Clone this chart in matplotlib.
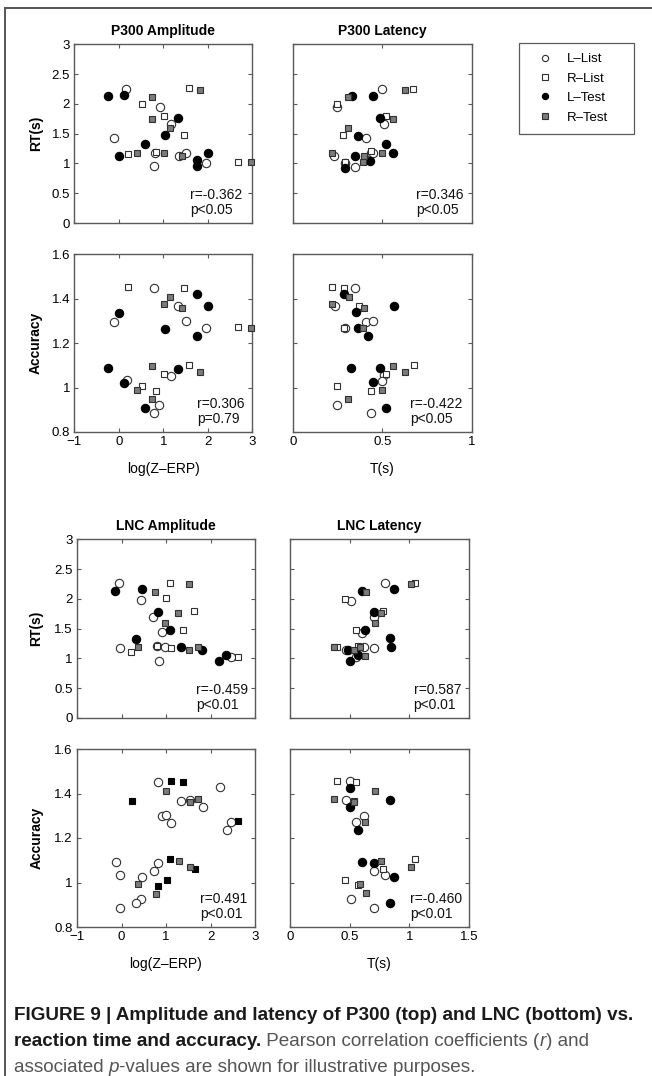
import numpy as np
import matplotlib
matplotlib.use('Agg')
import matplotlib.pyplot as plt
from matplotlib.lines import Line2D

plt.rcParams['font.family'] = ['Liberation Sans', 'DejaVu Sans']

# ---------------- data ----------------
# Panel A: P300 amplitude vs RT
A_LL_x = [0.16, 0.93, -0.11, 1.17, 0.81, 0.79, 1.35, 1.50, 1.97]
A_LL_y = [2.25, 1.95, 1.43, 1.67, 1.18, 0.96, 1.13, 1.17, 1.01]
A_RL_x = [0.53, 1.02, 1.58, 1.47, 0.21, 0.83, 2.67]
A_RL_y = [1.99, 1.79, 2.26, 1.47, 1.16, 1.20, 1.02]
A_LT_x = [-0.24, 0.12, 1.34, 1.04, 0.59, 0.01, 1.75, 1.75, 2.00]
A_LT_y = [2.13, 2.15, 1.77, 1.47, 1.33, 1.13, 1.06, 0.95, 1.18]
A_RT_x = [0.74, 1.82, 0.75, 1.15, 0.42, 1.01, 1.43, 2.98]
A_RT_y = [2.11, 2.23, 1.75, 1.60, 1.18, 1.18, 1.12, 1.03]

# Panel B: P300 latency vs RT
B_LL_x = [0.50, 0.25, 0.51, 0.41, 0.23, 0.44, 0.35, 0.29, 0.45]
B_LL_y = [2.25, 1.95, 1.67, 1.43, 1.12, 1.17, 0.94, 1.01, 1.18]
B_RL_x = [0.67, 0.25, 0.52, 0.28, 0.44, 0.29]
B_RL_y = [2.25, 1.99, 1.79, 1.47, 1.21, 1.02]
B_LT_x = [0.33, 0.45, 0.49, 0.365, 0.52, 0.56, 0.35, 0.43, 0.29]
B_LT_y = [2.13, 2.14, 1.76, 1.46, 1.33, 1.17, 1.12, 1.04, 0.93]
B_RT_x = [0.63, 0.31, 0.56, 0.31, 0.22, 0.50, 0.40, 0.395]
B_RT_y = [2.23, 2.11, 1.75, 1.60, 1.17, 1.17, 1.12, 1.02]

# Panel C: P300 amplitude vs accuracy
C_LL_x = [0.79, -0.11, 1.34, 1.50, 1.97, 0.18, 1.165, 0.91, 0.79]
C_LL_y = [1.45, 1.294, 1.368, 1.30, 1.27, 1.032, 1.05, 0.923, 0.885]
C_RL_x = [0.21, 1.47, 2.67, 1.58, 1.02, 0.53, 0.83]
C_RL_y = [1.452, 1.45, 1.272, 1.10, 1.059, 1.008, 0.983]
C_LT_x = [1.75, 2.00, 1.04, 1.75, 0.01, -0.24, 0.12, 1.34, 0.59]
C_LT_y = [1.42, 1.365, 1.265, 1.233, 1.337, 1.087, 1.022, 1.085, 0.907]
C_RT_x = [1.15, 1.01, 1.43, 2.98, 0.75, 1.82, 0.42, 0.74]
C_RT_y = [1.407, 1.375, 1.357, 1.267, 1.095, 1.07, 0.99, 0.95]

# Panel D: P300 latency vs accuracy
D_LL_x = [0.35, 0.237, 0.41, 0.446, 0.29, 0.51, 0.50, 0.25, 0.44]
D_LL_y = [1.45, 1.367, 1.293, 1.30, 1.27, 1.056, 1.03, 0.923, 0.886]
D_RL_x = [0.22, 0.287, 0.37, 0.287, 0.675, 0.52, 0.246, 0.44]
D_RL_y = [1.453, 1.45, 1.365, 1.27, 1.10, 1.059, 1.008, 0.985]
D_LT_x = [0.287, 0.565, 0.356, 0.364, 0.42, 0.325, 0.49, 0.446, 0.524]
D_LT_y = [1.423, 1.366, 1.338, 1.266, 1.233, 1.089, 1.086, 1.023, 0.908]
D_RT_x = [0.315, 0.22, 0.40, 0.395, 0.56, 0.63, 0.50, 0.31]
D_RT_y = [1.407, 1.375, 1.357, 1.267, 1.095, 1.07, 0.99, 0.95]

# Panel E: LNC amplitude vs RT
E_LL_x = [-0.05, 0.44, 0.71, 0.91, -0.035, 0.80, 0.975, 0.84, 2.45]
E_LL_y = [2.27, 1.98, 1.69, 1.44, 1.18, 1.21, 1.19, 0.96, 1.03]
E_RL_x = [1.09, 1.00, 1.64, 1.38, 0.22, 0.80, 1.12, 2.62]
E_RL_y = [2.26, 2.01, 1.80, 1.48, 1.115, 1.21, 1.17, 1.03]
E_LT_x = [-0.15, 0.47, 0.81, 1.10, 0.32, 1.33, 1.82, 2.19, 2.35]
E_LT_y = [2.14, 2.16, 1.78, 1.47, 1.33, 1.20, 1.14, 0.95, 1.065]
E_RT_x = [0.76, 1.52, 1.28, 0.98, 0.38, 1.52, 1.72]
E_RT_y = [2.12, 2.25, 1.76, 1.60, 1.19, 1.14, 1.19]

# Panel F: LNC latency vs RT
F_LL_x = [0.80, 0.515, 0.70, 0.605, 0.47, 0.62, 0.705, 0.555]
F_LL_y = [2.27, 1.97, 1.70, 1.43, 1.14, 1.19, 1.18, 1.03]
F_RL_x = [1.045, 0.465, 0.78, 0.55, 0.39, 0.57]
F_RL_y = [2.26, 2.00, 1.80, 1.48, 1.19, 1.21]
F_LT_x = [0.605, 0.87, 0.70, 0.63, 0.84, 0.845, 0.49, 0.57, 0.50]
F_LT_y = [2.14, 2.16, 1.78, 1.47, 1.34, 1.19, 1.14, 1.06, 0.95]
F_RT_x = [1.01, 0.64, 0.76, 0.71, 0.37, 0.54, 0.59, 0.63]
F_RT_y = [2.25, 2.12, 1.76, 1.60, 1.19, 1.14, 1.19, 1.04]

# Panel G: LNC amplitude vs accuracy (markers drawn differently in original)
G_LL_x = [-0.03, 0.44, 0.72, 0.92, -0.03, 0.825, 0.99, 0.83, 2.46]
G_LL_y = [1.032, 0.925, 1.053, 1.298, 0.887, 1.086, 1.304, 1.453, 1.272]
G_LT_x = [-0.13, 0.465, 1.12, 0.32, 1.33, 1.83, 2.21, 2.36, 1.53]
G_LT_y = [1.09, 1.026, 1.268, 0.908, 1.368, 1.34, 1.427, 1.234, 1.37]
G_RL_x = [0.23, 1.12, 1.39, 2.62, 1.09, 1.655, 1.02, 0.82]
G_RL_y = [1.367, 1.457, 1.453, 1.275, 1.104, 1.061, 1.011, 0.985]
G_RT_x = [0.99, 1.53, 1.73, 1.29, 1.53, 0.38, 0.765]
G_RT_y = [1.41, 1.36, 1.376, 1.096, 1.069, 0.993, 0.95]

# Panel H: LNC latency vs accuracy
H_LL_x = [0.50, 0.47, 0.616, 0.555, 0.70, 0.80, 0.515, 0.705]
H_LL_y = [1.454, 1.371, 1.30, 1.274, 1.053, 1.033, 0.926, 0.887]
H_RL_x = [0.39, 0.55, 0.54, 1.045, 0.78, 0.465, 0.566]
H_RL_y = [1.456, 1.453, 1.365, 1.104, 1.06, 1.009, 0.987]
H_LT_x = [0.50, 0.84, 0.50, 0.566, 0.60, 0.70, 0.87, 0.84]
H_LT_y = [1.426, 1.37, 1.341, 1.234, 1.09, 1.089, 1.024, 0.908]
H_RT_x = [0.71, 0.37, 0.54, 0.63, 0.76, 1.01, 0.59, 0.64]
H_RT_y = [1.41, 1.376, 1.36, 1.27, 1.096, 1.07, 0.993, 0.952]

r_texts = ["r=-0.362", "r=0.346", "r=0.306", "r=-0.422",
           "r=-0.459", "r=0.587", "r=0.491", "r=-0.460"]
p_texts = ["p<0.05", "p<0.05", "p=0.79", "p<0.05",
           "p<0.01", "p<0.01", "p<0.01", "p<0.01"]
titles = ["P300 Amplitude", "P300 Latency", "LNC Amplitude", "LNC Latency"]
legend_labels = ["L\u2013List", "R\u2013List", "L\u2013Test", "R\u2013Test"]

# ---------------- styles ----------------
EDGE = '#303030'
GRAYFILL = '#7b7b7b'
ST = {
    'LL': dict(marker='o', ms=6.0, mfc='white', mec=EDGE, mew=0.8, ls='none'),
    'RL': dict(marker='s', ms=4.9, mfc='white', mec=EDGE, mew=0.8, ls='none'),
    'LT': dict(marker='o', ms=6.0, mfc='black', mec='black', mew=0.8, ls='none'),
    'RT': dict(marker='s', ms=4.9, mfc=GRAYFILL, mec=EDGE, mew=0.8, ls='none'),
    'RLblk': dict(marker='s', ms=4.9, mfc='black', mec='black', mew=0.8, ls='none'),
}
SPINE = '#5a5a5a'

W, H = 652, 1076
fig = plt.figure(figsize=(W / 100, H / 100), dpi=100)


def add_ax(x0, x1, yt, yb):
    return fig.add_axes([x0 / W, 1 - yb / H, (x1 - x0) / W, (yb - yt) / H])


def style(ax, xlim, xticks, ylim, yticks, showx, showy):
    ax.set_xlim(*xlim)
    ax.set_ylim(*ylim)
    ax.set_xticks(xticks)
    ax.set_yticks(yticks)
    ax.set_xticklabels([f"{t:g}".replace('-', '\u2212') for t in xticks])
    ax.set_yticklabels([f"{t:g}" for t in yticks])
    ax.tick_params(direction='in', top=True, right=True, length=3, width=0.8,
                   color=SPINE, labelsize=9.5, pad=3,
                   labelbottom=showx, labelleft=showy)
    for s in ax.spines.values():
        s.set_color(SPINE)
        s.set_linewidth(1.0)


def stats(ax, fx, i):
    ax.text(fx, 0.155, r_texts[i], transform=ax.transAxes, fontsize=10,
            va='center', ha='left', color='#111111')
    ax.text(fx, 0.075, p_texts[i], transform=ax.transAxes, fontsize=10,
            va='center', ha='left', color='#111111')


rt_ticks = [0, 0.5, 1, 1.5, 2, 2.5, 3]
acc_ticks = [0.8, 1, 1.2, 1.4, 1.6]
amp_ticks = [-1, 0, 1, 2, 3]

# axes boxes (pixel)
axA = add_ax(74.3, 252.3, 44.3, 223.0)
axB = add_ax(292.7, 471.7, 44.3, 223.0)
axC = add_ax(74.3, 252.3, 254.3, 432.0)
axD = add_ax(292.7, 471.7, 254.3, 432.0)
axE = add_ax(77.0, 255.0, 539.3, 718.0)
axF = add_ax(290.0, 469.0, 539.3, 718.0)
axG = add_ax(77.0, 255.0, 749.0, 927.0)
axH = add_ax(290.0, 469.0, 749.0, 927.0)

panels = [
    (axA, [(A_LL_x, A_LL_y, 'LL'), (A_RL_x, A_RL_y, 'RL'), (A_LT_x, A_LT_y, 'LT'), (A_RT_x, A_RT_y, 'RT')]),
    (axB, [(B_LL_x, B_LL_y, 'LL'), (B_RL_x, B_RL_y, 'RL'), (B_LT_x, B_LT_y, 'LT'), (B_RT_x, B_RT_y, 'RT')]),
    (axC, [(C_LL_x, C_LL_y, 'LL'), (C_RL_x, C_RL_y, 'RL'), (C_LT_x, C_LT_y, 'LT'), (C_RT_x, C_RT_y, 'RT')]),
    (axD, [(D_LL_x, D_LL_y, 'LL'), (D_RL_x, D_RL_y, 'RL'), (D_LT_x, D_LT_y, 'LT'), (D_RT_x, D_RT_y, 'RT')]),
    (axE, [(E_LL_x, E_LL_y, 'LL'), (E_RL_x, E_RL_y, 'RL'), (E_LT_x, E_LT_y, 'LT'), (E_RT_x, E_RT_y, 'RT')]),
    (axF, [(F_LL_x, F_LL_y, 'LL'), (F_RL_x, F_RL_y, 'RL'), (F_LT_x, F_LT_y, 'LT'), (F_RT_x, F_RT_y, 'RT')]),
    (axG, [(G_LL_x, G_LL_y, 'LL'), (G_LT_x, G_LT_y, 'LL'), (G_RL_x, G_RL_y, 'RLblk'), (G_RT_x, G_RT_y, 'RT')]),
    (axH, [(H_LL_x, H_LL_y, 'LL'), (H_RL_x, H_RL_y, 'RL'), (H_LT_x, H_LT_y, 'LT'), (H_RT_x, H_RT_y, 'RT')]),
]
for ax, series in panels:
    for xs, ys, key in series:
        ax.plot(xs, ys, **ST[key], clip_on=False, zorder=3)

style(axA, (-1, 3), amp_ticks, (0, 3), rt_ticks, False, True)
style(axB, (0, 1), [0, 0.5, 1], (0, 3), rt_ticks, False, False)
style(axC, (-1, 3), amp_ticks, (0.8, 1.6), acc_ticks, True, True)
style(axD, (0, 1), [0, 0.5, 1], (0.8, 1.6), acc_ticks, True, False)
style(axE, (-1, 3), amp_ticks, (0, 3), rt_ticks, False, True)
style(axF, (0, 1.5), [0, 0.5, 1, 1.5], (0, 3), rt_ticks, False, False)
style(axG, (-1, 3), amp_ticks, (0.8, 1.6), acc_ticks, True, True)
style(axH, (0, 1.5), [0, 0.5, 1, 1.5], (0.8, 1.6), acc_ticks, True, False)

for ax, fx, i in [(axA, 0.65, 0), (axB, 0.69, 1), (axC, 0.69, 2), (axD, 0.655, 3),
                  (axE, 0.67, 4), (axF, 0.69, 5), (axG, 0.69, 6), (axH, 0.67, 7)]:
    stats(ax, fx, i)

for ax, t in [(axA, titles[0]), (axB, titles[1]), (axE, titles[2]), (axF, titles[3])]:
    ax.set_title(t, fontsize=10, fontweight='bold', pad=7)

for ax in (axA, axE):
    ax.set_ylabel("RT(s)", fontsize=10, fontweight='bold')
for ax in (axC, axG):
    ax.set_ylabel("Accuracy", fontsize=10, fontweight='bold')
for ax in (axA, axC):
    ax.yaxis.set_label_coords(-0.175, 0.5)
for ax in (axE, axG):
    ax.yaxis.set_label_coords(-0.19, 0.5)
for ax in (axC, axG):
    ax.set_xlabel("log(Z\u2013ERP)", fontsize=10)
for ax in (axD, axH):
    ax.set_xlabel("T(s)", fontsize=10)
for ax in (axC, axD, axG, axH):
    ax.xaxis.set_label_coords(0.5, -0.168)

# legend (box spans the reference legend frame)
handles = [Line2D([], [], **dict(ST[k], ms=ST[k]['ms'] * 0.75)) for k in ('LL', 'RL', 'LT', 'RT')]
leg = fig.legend(handles, legend_labels, loc='upper left',
                 bbox_to_anchor=(519 / W, 1 - 131 / H, 115 / W, 88 / H), mode='expand',
                 fontsize=9.5, frameon=True, fancybox=False, edgecolor=SPINE,
                 framealpha=1, borderpad=0.75, labelspacing=0.55, handlelength=2.4,
                 handletextpad=0.5, borderaxespad=0)
leg.get_frame().set_linewidth(0.9)

# frame lines
fig.add_artist(Line2D([5 / W, 1.0], [1 - 8 / H, 1 - 8 / H], transform=fig.transFigure,
                      color='#555555', lw=1.4))
fig.add_artist(Line2D([5 / W, 5 / W], [1 - 8 / H, 0.0], transform=fig.transFigure,
                      color='#555555', lw=1.4))

# caption
cap_fs = 13.6
renderer = fig.canvas.get_renderer()
X0 = 14
lines_y = [1015, 1042, 1068]


def put(x_px, y_px, s, **kw):
    t = fig.text(x_px / W, 1 - y_px / H, s, fontsize=cap_fs, va='center', ha='left', **kw)
    bb = t.get_window_extent(renderer=renderer)
    return x_px + bb.width


put(X0, lines_y[0], "FIGURE 9 | Amplitude and latency of P300 (top) and LNC (bottom) vs.",
    fontweight='bold', color='#1a1a1a')
x = put(X0, lines_y[1], "reaction time and accuracy.", fontweight='bold', color='#1a1a1a')
x = put(x, lines_y[1], " Pearson correlation coefficients (", color='#555555')
x = put(x, lines_y[1], "r", color='#555555', style='italic')
x = put(x, lines_y[1], ") and", color='#555555')
x = put(X0, lines_y[2], "associated ", color='#555555')
x = put(x, lines_y[2], "p", color='#555555', style='italic')
x = put(x, lines_y[2], "-values are shown for illustrative purposes.", color='#555555')

fig.savefig('out.png', dpi=100)
